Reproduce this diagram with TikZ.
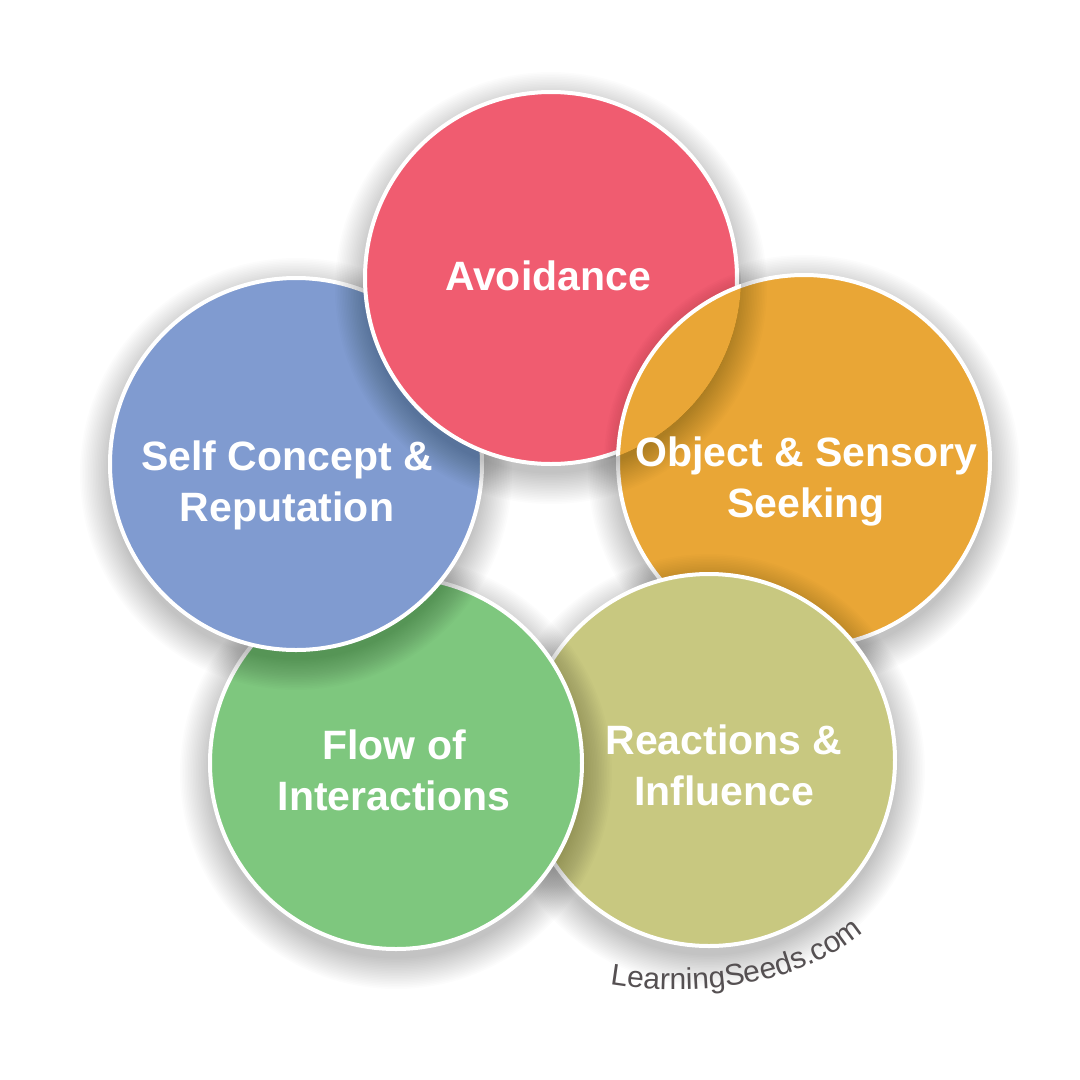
\documentclass[tikz,border=0pt]{standalone}
\usepackage{fontspec}
\setmainfont{Liberation Sans}
\usetikzlibrary{decorations.text}
\definecolor{cred}{RGB}{240,92,112}
\definecolor{cblue}{RGB}{128,155,208}
\definecolor{corange}{RGB}{233,166,54}
\definecolor{cyellow}{RGB}{200,200,128}
\definecolor{cgreen}{RGB}{126,199,126}
\definecolor{wmgray}{RGB}{85,80,82}
\newcommand{\lblfont}{\fontsize{41}{51}\selectfont\bfseries}
\newcommand{\wmfont}{\fontsize{30}{30}\selectfont}
\tikzset{
  disc/.style={circle, draw=white, line width=4pt, minimum size=372pt, inner sep=0pt},
  lbl/.style={text=white, font=\lblfont, align=center, inner sep=0pt},
  shadowring/.style={fill=black, opacity=0.013},
}
\newcommand{\discshadow}[2]{%
  \foreach \k in {1,...,20}{%
    \fill[shadowring] (#1,#2+10) circle [radius={184pt+\k*1.6pt}];
  }%
}
\begin{document}
\begin{tikzpicture}[x=1pt,y=-1pt]
\fill[white] (0,0) rectangle (1080,1080);
\useasboundingbox (0,0) rectangle (1080,1080);
% orange
\discshadow{804}{461}
\node[disc, fill=corange] (orange) at (804,461) {};
% yellow
\discshadow{709}{760}
\node[disc, fill=cyellow] (yellow) at (709,760) {};
% green
\discshadow{396}{763}
\node[disc, fill=cgreen] (green) at (396,763) {};
% blue
\discshadow{296}{464}
\node[disc, fill=cblue] (blue) at (296,464) {};
% red
\discshadow{551}{278}
\node[disc, fill=cred] (red) at (551,278) {};
% orange over red
\begin{scope}
  \clip (551,278) circle [radius=190pt];
  \foreach \k in {1,...,10}{\fill[shadowring] (804,461) circle [radius={184pt+\k*1.6pt}];}
  \node[disc, fill=corange] (orangetop) at (804,461) {};
\end{scope}
% labels
\node[lbl] (tavoid) at (548,276) {Avoidance};
\node[lbl] (tself) at (287,485) {Self Concept \&\\Reputation};
\node[lbl] (tobj) at (806,481) {Object \& Sensory\\Seeking};
\node[lbl] (tflow) at (394,770) {Flow of\\Interactions};
\node[lbl] (treact) at (724,765) {Reactions \&\\Influence};
% watermark
\coordinate (wmA) at (604,983);
\coordinate (wmB) at (700,1000);
\coordinate (wmC) at (805,985);
\coordinate (wmD) at (868,928);
\path[decorate, decoration={text along path, text color=wmgray,
   text={|\wmfont|LearningSeeds.com}, text align=center}]
   (wmA) .. controls (wmB) and (wmC) .. (wmD);
\end{tikzpicture}
\end{document}
